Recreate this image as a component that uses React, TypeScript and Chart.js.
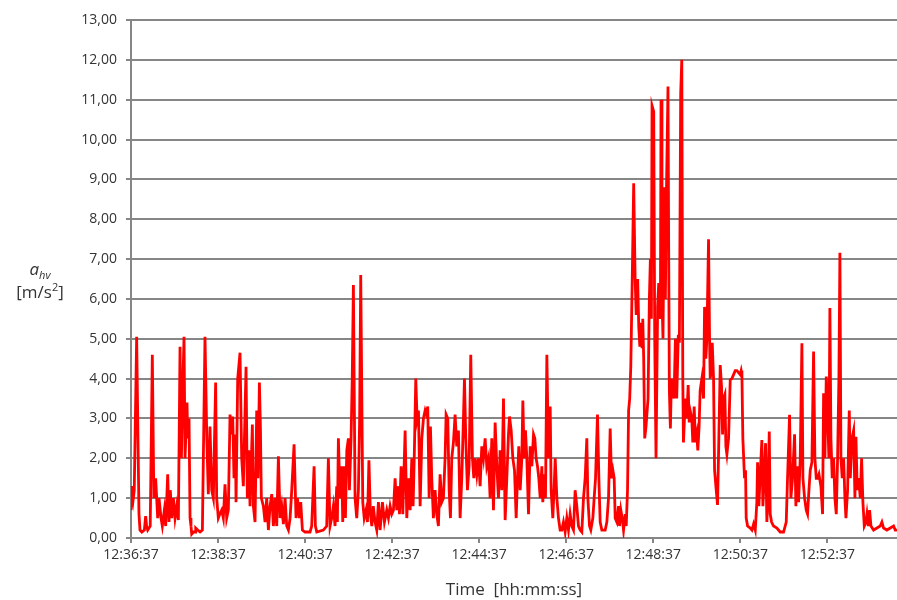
import React, { useEffect, useRef } from 'react';
import { Chart, registerables } from 'chart.js';

Chart.register(...registerables);

// Elapsed time in seconds since 12:36:37
const timeSec: number[] = [
  0, 1.8, 3.2, 4.5, 7.8, 11, 12.4, 15, 18.4, 20.2,
  21.5, 23, 26.5, 29.4, 31.5, 34, 36.8, 38.6, 41.4, 43.2,
  46, 47.8, 50.6, 52.4, 54.2, 56.1, 58.4, 60.7, 63, 65.3,
  67.6, 69.5, 71, 73.1, 74.5, 77.2, 78.2, 80, 81.4, 82.7,
  83.7, 86, 88.3, 89.2, 92, 95.2, 98.4, 102, 104.5, 106.6,
  108.9, 111.3, 113.5, 116.7, 118.1, 120.4, 122.5, 125, 127.3, 129.6,
  131.9, 134.2, 136.5, 138.5, 140.2, 142, 143.9, 144.8, 147.1, 150.3,
  152.6, 154.9, 158.6, 160.4, 162.3, 164.1, 167.3, 168.7, 171, 173.3,
  175.1, 177, 178.4, 179.7, 182.5, 184.8, 187.1, 189.4, 191.7, 194,
  196.3, 198.6, 200.9, 203.2, 205.5, 207.8, 210.1, 212.4, 214.7, 217,
  219.3, 221.6, 224.8, 227.5, 229.4, 232.1, 234, 236.3, 239.9, 246.8,
  249.1, 252.4, 254.2, 256.1, 265.2, 269.8, 272.1, 274.4, 276.7, 279,
  281.3, 283.6, 284.5, 285.9, 288.2, 290.5, 291.9, 293.7, 295.6, 297.5,
  299.7, 301.1, 303.4, 305, 306.6, 308.9, 311.2, 313.5, 315.2, 316.7,
  319.5, 321.5, 324, 326, 328, 330, 332, 334, 336.5, 338.8,
  341.1, 343.4, 346.6, 349.4, 352.6, 354.9, 357.2, 359.5, 361.8, 364.1,
  366.4, 368.7, 370.1, 372.4, 374.7, 377.9, 380.2, 382.5, 384.8, 387.1,
  388.9, 390.7, 392.6, 394.4, 396.3, 398.6, 400.9, 403.2, 405.5, 407.3,
  409.1, 411, 412.8, 414.6, 416.9, 419.2, 421.5, 423.8, 426.1, 428.4,
  430.7, 433, 434.4, 436.7, 438.6, 440.4, 442.2, 444.5, 446.8, 449.1,
  451.4, 453.7, 456, 458.3, 459.7, 461.5, 463.8, 466.1, 468.4, 470.7,
  472.6, 474.4, 476.7, 479, 481.3, 483.6, 485.9, 488.2, 490.5, 492.8,
  495.1, 497.4, 499.7, 502, 504.3, 506.6, 508.9, 511.2, 513.5, 515.8,
  518.1, 520.4, 521.8, 524.1, 526.4, 528.7, 531, 532.8, 534.6, 536.5,
  538.8, 540.2, 542, 543.8, 545.7, 548, 550.3, 552.6, 554.9, 556.7,
  558.5, 560.4, 562.2, 564.1, 566.4, 567.7, 569.6, 571.4, 573.3, 575.6,
  577.9, 579.2, 581.5, 583.4, 584.8, 587.1, 589.3, 591.6, 593.9, 596.2,
  598.5, 600.8, 603.1, 605.4, 607.7, 610, 612.3, 614.6, 616.9, 619.2,
  621.5, 623.8, 626.1, 628.4, 629.8, 632.1, 633.9, 636.7, 638.5, 640.4,
  643.1, 645, 646.8, 649.1, 651.4, 653.7, 656, 658.3, 660.6, 662.4,
  664.3, 666.1, 667.5, 669.8, 672.1, 673.5, 675.3, 677.2, 679, 681.3,
  682.7, 684.5, 686, 687.5, 689, 691, 693, 695, 696.5, 698.5,
  700, 701.5, 703, 704.5, 705.5, 706.8, 708.2, 710, 712.8, 714.6,
  716, 717.4, 718.3, 720.6, 722, 723.8, 726, 727.5, 729.8, 730.7,
  732, 733.4, 735.3, 736.7, 738, 740.3, 741.3, 742.2, 743.6, 745,
  746.8, 748.6, 750.5, 752.3, 754.5, 756, 757.8, 759.3, 760.7, 761.6,
  763, 764.9, 766.2, 768.1, 769.5, 770.8, 773.1, 774.5, 776.4, 778.2,
  780, 781.4, 783.2, 784.6, 787, 789.3, 790.7, 792.5, 793.9, 796.2,
  797.6, 798.5, 799.9, 801.3, 803.1, 804.5, 806.3, 808.6, 810.4, 812.3,
  814.1, 815.5, 816.9, 818.7, 820.1, 821.5, 823.8, 826.1, 828.4, 830.7,
  833, 835.3, 837.6, 839.9, 841.2, 842.2, 843.5, 845.8, 847.2, 848.1,
  850, 853.7, 856, 858.3, 860.6, 862.8, 863.8, 865.6, 867.4, 869.7,
  871.1, 873, 874.8, 876.6, 878, 879.9, 881.2, 883.1, 885.8, 890.4,
  895, 899.6, 903.3, 905.1, 907.9, 909.7, 912, 914.8, 916.6, 918.5,
  920.3, 922.6, 924.9, 926.3, 928.6, 930.9, 932.7, 934.6, 936.4, 938.7,
  941, 942.8, 944.7, 946.5, 948.4, 951.1, 953.4, 954.8, 956.6, 958.5,
  959.8, 962.1, 963.5, 964.9, 966.7, 968.6, 970.4, 972.3, 974.1, 975.9,
  977.3, 978.7, 980.5, 982.4, 984.2, 985.6, 987.9, 990.2, 991.6, 993.9,
  996.2, 998, 999.4, 1001.2, 1003.1, 1005.4, 1007.2, 1009, 1010.9, 1013.2,
  1014.6, 1016.4, 1018.2, 1020.1, 1023.7, 1028.3, 1032.9, 1035.2, 1037.5, 1042.1,
  1046.7, 1051.3, 1053.6, 1056.4,
];

// a_hv [m/s²]
const ahv: number[] = [
  0.7, 1.3, 1.0, 1.2, 5.05, 0.6, 0.2, 0.15, 0.2, 0.55,
  0.3, 0.2, 0.3, 4.6, 1.0, 1.5, 0.5, 1.0, 0.5, 0.3,
  0.7, 0.3, 1.6, 0.4, 1.2, 0.5, 1.0, 0.5, 0.8, 0.45,
  4.8, 2.0, 3.5, 5.05, 2.0, 3.4, 2.5, 3.0, 0.5, 0.3,
  0.1, 0.15, 0.15, 0.25, 0.2, 0.15, 0.2, 5.05, 2.5, 1.1,
  2.8, 1.2, 1.0, 3.9, 1.0, 0.5, 0.6, 0.7, 0.5, 1.35,
  0.5, 0.7, 3.1, 2.6, 3.05, 1.5, 2.6, 0.9, 4.0, 4.65,
  2.0, 1.3, 4.3, 1.0, 2.2, 0.8, 2.85, 0.8, 0.4, 3.2,
  1.5, 3.9, 2.8, 1.0, 0.8, 0.4, 1.0, 0.2, 0.8, 1.1,
  0.3, 1.0, 0.3, 2.05, 0.5, 0.8, 0.35, 1.0, 0.3, 0.2,
  0.5, 1.2, 2.35, 0.5, 1.0, 0.5, 0.9, 0.2, 0.15, 0.15,
  0.3, 1.8, 0.3, 0.15, 0.2, 0.3, 2.0, 0.3, 0.5, 0.8,
  0.3, 1.3, 0.4, 2.5, 1.0, 1.8, 0.4, 1.8, 0.5, 2.2,
  2.5, 1.2, 2.5, 4.0, 6.35, 1.0, 0.5, 1.2, 3.0, 6.6,
  0.9, 0.5, 0.7, 0.4, 1.95, 0.6, 0.3, 0.8, 0.4, 0.2,
  0.9, 0.2, 0.9, 0.4, 0.7, 0.5, 0.8, 0.6, 0.7, 1.5,
  0.7, 1.3, 0.6, 1.8, 0.6, 2.7, 0.5, 1.5, 0.7, 2.0,
  0.8, 2.2, 4.0, 3.0, 3.2, 0.8, 2.5, 3.0, 3.2, 3.1,
  3.3, 1.0, 2.8, 1.5, 0.5, 1.2, 0.6, 0.3, 1.6, 0.9,
  1.0, 2.0, 3.1, 3.0, 1.2, 0.5, 2.0, 2.4, 3.1, 2.3,
  2.7, 0.5, 1.5, 3.0, 4.0, 2.5, 1.2, 1.8, 4.6, 2.0,
  1.5, 2.0, 1.6, 2.0, 1.3, 2.3, 2.0, 2.5, 1.8, 2.0,
  1.0, 2.5, 0.7, 2.9, 1.8, 1.0, 2.2, 1.2, 3.5, 0.45,
  1.5, 2.6, 3.05, 2.7, 2.0, 1.7, 0.5, 1.5, 2.3, 1.2,
  2.0, 3.45, 2.0, 2.7, 2.0, 0.6, 2.3, 1.8, 2.6, 2.5,
  2.0, 1.8, 1.5, 1.0, 1.8, 0.9, 1.6, 1.0, 4.6, 2.0,
  3.3, 1.2, 0.5, 1.3, 2.0, 1.0, 0.5, 0.2, 0.2, 0.4,
  0.15, 0.5, 0.2, 0.6, 0.3, 0.2, 1.2, 0.8, 0.3, 0.2,
  0.15, 1.0, 1.5, 2.5, 1.0, 0.3, 0.2, 0.5, 1.0, 1.5,
  3.1, 1.5, 0.4, 0.2, 0.2, 0.2, 0.4, 1.0, 2.75, 1.5,
  1.7, 1.5, 0.5, 0.4, 0.8, 0.3, 0.7, 0.5, 0.2, 0.6,
  0.3, 1.2, 3.2, 3.5, 4.3, 6.5, 8.9, 6.5, 5.6, 6.5,
  5.3, 4.8, 5.4, 4.8, 5.5, 4.5, 2.5, 2.8, 3.5, 6.0,
  7.0, 5.5, 10.85, 10.7, 5.0, 2.0, 5.8, 6.4, 5.5, 11.0,
  6.0, 5.0, 8.8, 6.0, 8.5, 11.33, 7.0, 3.7, 2.75, 4.0,
  3.7, 3.5, 5.0, 3.5, 5.1, 4.9, 11.16, 12.0, 4.0, 2.4,
  3.0, 3.5, 3.0, 3.84, 2.9, 3.2, 3.0, 2.4, 3.3, 2.4,
  2.6, 2.2, 2.8, 3.7, 4.0, 3.5, 5.8, 4.5, 5.0, 7.5,
  5.0, 4.0, 4.2, 4.9, 4.0, 1.7, 1.3, 0.83, 2.5, 4.34,
  3.8, 2.6, 3.5, 3.6, 2.3, 2.1, 2.5, 3.97, 4.0, 4.1,
  4.2, 4.2, 4.15, 4.1, 4.2, 4.1, 2.5, 1.5, 1.7, 0.5,
  0.3, 0.25, 0.2, 0.35, 0.2, 0.9, 1.9, 0.8, 1.6, 2.46,
  0.8, 1.5, 2.38, 0.4, 1.0, 2.67, 0.6, 0.4, 0.3, 0.25,
  0.15, 0.15, 0.4, 1.5, 3.09, 1.0, 1.5, 2.6, 0.8, 1.8,
  0.9, 2.0, 4.89, 1.5, 1.0, 0.7, 0.6, 1.2, 1.7, 1.9,
  4.68, 2.0, 1.5, 1.5, 1.6, 1.3, 0.6, 3.63, 2.0, 4.05,
  3.5, 2.0, 5.77, 2.5, 1.5, 2.0, 1.0, 0.6, 2.0, 4.0,
  7.16, 2.0, 1.5, 2.0, 1.0, 0.5, 1.2, 3.2, 1.5, 2.5,
  2.7, 1.0, 2.54, 1.2, 1.5, 1.0, 2.0, 0.9, 0.3, 0.4,
  0.6, 0.3, 0.7, 0.3, 0.2, 0.25, 0.3, 0.4, 0.25, 0.2,
  0.25, 0.3, 0.2, 0.2,
];

const xTickSeconds: number[] = [0, 120, 240, 360, 480, 600, 720, 840, 960];
const xTickLabels: string[] = [
  '12:36:37', '12:38:37', '12:40:37', '12:42:37', '12:44:37',
  '12:46:37', '12:48:37', '12:50:37', '12:52:37',
];
const xMax = 1056;
const yMin = 0;
const yMax = 13;
const yStep = 1;

const FONT = '"Open Sans", "Noto Sans", sans-serif';
const GRID = '#868686';
const TEXT = '#333333';

export default function App() {
  const ref = useRef<HTMLCanvasElement>(null);

  useEffect(() => {
    document.body.style.margin = '0';
    const points = timeSec.map((t, i) => ({ x: t, y: ahv[i] }));
    const chart = new Chart(ref.current as HTMLCanvasElement, {
      type: 'line',
      data: {
        datasets: [
          {
            data: points,
            borderColor: '#ff0000',
            borderWidth: 2.8,
            pointRadius: 0,
            tension: 0,
            fill: false,
          },
        ],
      },
      options: {
        responsive: false,
        animation: false,
        layout: { padding: { top: 20, right: 0, bottom: 0, left: 0 } },
        plugins: { legend: { display: false }, tooltip: { enabled: false } },
        scales: {
          x: {
            type: 'linear',
            min: 0,
            max: xMax,
            afterBuildTicks: (s: any) => {
              s.ticks = xTickSeconds.map((v) => ({ value: v }));
            },
            afterFit: (s: any) => {
              s.height = 62;
            },
            ticks: {
              autoSkip: false,
              maxRotation: 0,
              includeBounds: false,
              padding: 4,
              color: TEXT,
              font: { family: FONT, size: 14 },
              callback: (v: any) => {
                const i = xTickSeconds.indexOf(Number(v));
                return i >= 0 ? xTickLabels[i] : '';
              },
            },
            grid: {
              drawOnChartArea: false,
              drawTicks: true,
              tickLength: 5,
              color: GRID,
              lineWidth: 2,
            },
            border: { display: true, color: GRID, width: 2 },
            title: {
              display: true,
              text: 'Time  [hh:mm:ss]',
              color: TEXT,
              font: { family: FONT, size: 17 },
              padding: { top: 0, bottom: 0 },
            },
          },
          y: {
            type: 'linear',
            min: yMin,
            max: yMax,
            afterFit: (s: any) => {
              s.width = 131;
            },
            ticks: {
              stepSize: yStep,
              padding: 9,
              color: TEXT,
              font: { family: FONT, size: 14 },
              callback: (v: any) => Number(v).toFixed(2).replace('.', ','),
            },
            grid: {
              color: GRID,
              lineWidth: 2,
              tickLength: 5,
            },
            border: { display: true, color: GRID, width: 2 },
          },
        },
      },
    });
    return () => chart.destroy();
  }, []);

  return (
    <div style={{ position: 'absolute', left: 0, top: 0, width: 897, height: 600, background: '#fff' }}>
      <canvas ref={ref} width={897} height={600} style={{ display: 'block' }} />
      <div
        style={{
          position: 'absolute',
          left: 0,
          top: 258,
          width: 80,
          textAlign: 'center',
          fontFamily: FONT,
          fontSize: 17,
          lineHeight: '21px',
          color: '#333',
        }}
      >
        <div>
          <i>a</i>
          <span style={{ fontSize: 11, fontStyle: 'italic', position: 'relative', top: 4 }}>hv</span>
        </div>
        <div>
          [m/s<span style={{ fontSize: 11, position: 'relative', top: -7 }}>2</span>]
        </div>
      </div>
    </div>
  );
}
